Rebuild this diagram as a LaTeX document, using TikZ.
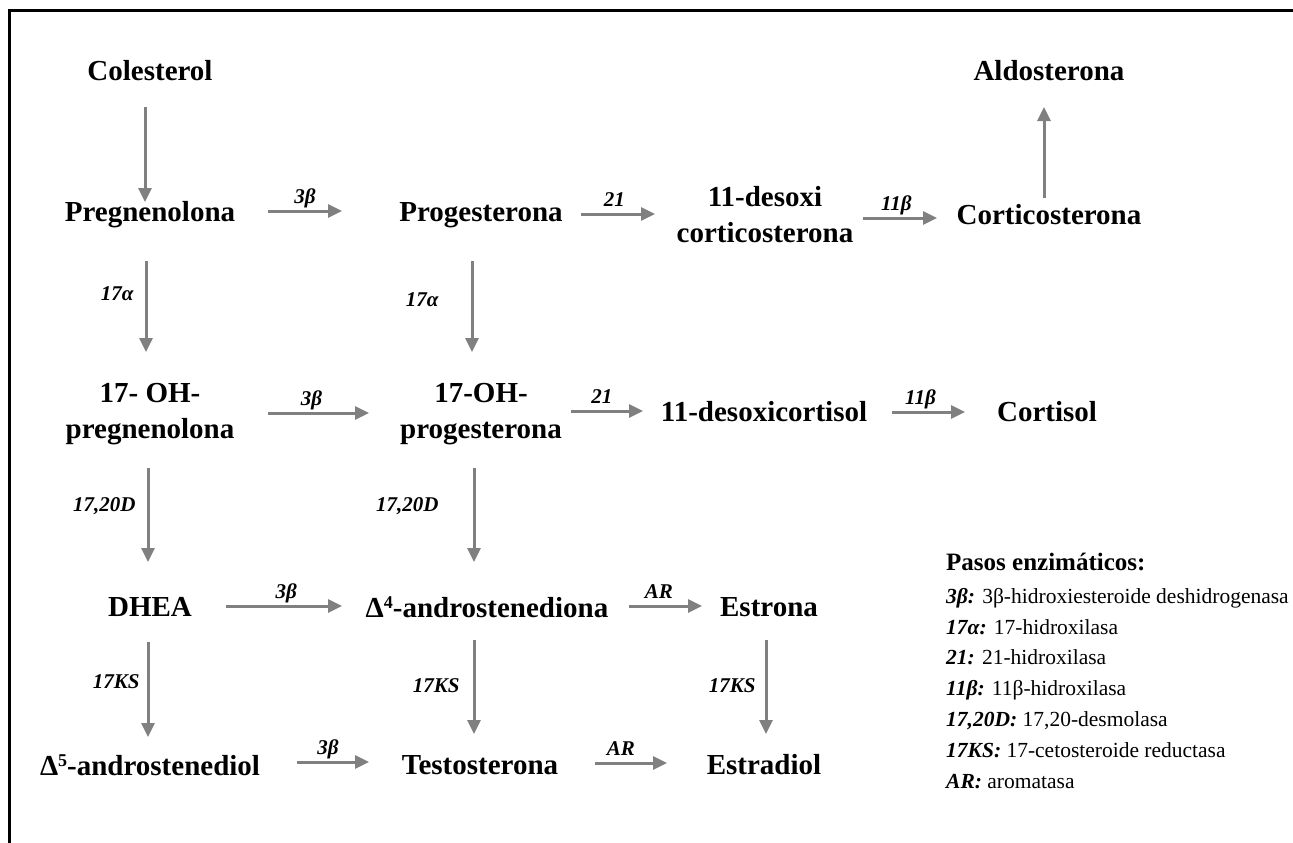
\documentclass[tikz,border=0pt]{standalone}
\usepackage{fontspec}
\setmainfont{Liberation Serif}
\usetikzlibrary{arrows.meta,positioning}
\definecolor{gris}{RGB}{128,128,128}
\begin{document}
\begin{tikzpicture}[x=1pt, y=1pt,
	compuesto/.style={font=\fontsize{29}{36}\selectfont\bfseries, align=center, inner sep=0pt},
	flecha/.style={draw=gris, line width=3pt, -{Triangle[length=14pt,width=13pt]}},
	etiq/.style={font=\fontsize{21}{21}\selectfont\bfseries\itshape, text=black, inner sep=1pt, text height=14pt, text depth=4pt}]
		\useasboundingbox (0,0) rectangle (1293,-843);
		\draw[line width=3pt] (9,-843) -- (9,-11) -- (1293,-11);
		% columna izquierda
		\node (col) [compuesto] at (150,-71) {Colesterol};
		\node (preg) [compuesto, below of = col, node distance=144pt] {Pregnenolona};
		\node (ohpreg) [compuesto, below of = preg, node distance=199pt] {17- OH-\\pregnenolona};
		\node (dhea) [compuesto, below of = ohpreg, node distance=193pt] {DHEA};
		\node (a5diol) [compuesto, below of = dhea, node distance=158pt] {Δ\raisebox{9pt}{\fontsize{18}{18}\selectfont 5}-androstenediol};
		% segunda columna
		\node (prog) [compuesto, right of = preg, node distance=331pt] {Progesterona};
		\node (ohprog) [compuesto, right of = ohpreg, node distance=331pt] {17-OH-\\progesterona};
		\node (a4) [compuesto, right of = dhea, node distance=337pt] {Δ\raisebox{9pt}{\fontsize{18}{18}\selectfont 4}-androstenediona};
		\node (testo) [compuesto, right of = a5diol, node distance=330pt] {Testosterona};
		% resto
		\node (doc) [compuesto, right of = prog, node distance=284pt] {11-desoxi\\corticosterona};
		\node (cortico) [compuesto, right of = doc, node distance=284pt] {Corticosterona};
		\node (aldo) [compuesto, above of = cortico, node distance=144pt] {Aldosterona};
		\node (dcortisol) [compuesto, right of = ohprog, node distance=283pt, yshift=2pt] {11-desoxicortisol};
		\node (cortisol) [compuesto, right of = dcortisol, node distance=283pt] {Cortisol};
		\node (estrona) [compuesto, right of = a4, node distance=282pt] {Estrona};
		\node (estradiol) [compuesto, right of = testo, node distance=284pt] {Estradiol};
		% flechas verticales
		\draw[flecha] ([xshift=-5pt,yshift=-36pt]col.center) -- ([xshift=-5pt,yshift=13pt]preg.center);
		\draw[flecha] ([xshift=-4pt,yshift=-46pt]preg.center) -- node[etiq, left=10pt, pos=0.38] {17α} ([xshift=-4pt,yshift=62pt]ohpreg.center);
		\draw[flecha] ([xshift=-2pt,yshift=-54pt]ohpreg.center) -- node[etiq, left=10pt, pos=0.41] {17,20D} ([xshift=-2pt,yshift=45pt]dhea.center);
		\draw[flecha] ([xshift=-2pt,yshift=-35pt]dhea.center) -- node[etiq, left=6pt, pos=0.44] {17KS} ([xshift=-2pt,yshift=28pt]a5diol.center);
		\draw[flecha] ([xshift=-9pt,yshift=-46pt]prog.center) -- node[etiq, left=31pt, pos=0.45] {17α} ([xshift=-9pt,yshift=62pt]ohprog.center);
		\draw[flecha] ([xshift=-7pt,yshift=-54pt]ohprog.center) -- node[etiq, left=33pt, pos=0.41] {17,20D} ([xshift=-13pt,yshift=45pt]a4.center);
		\draw[flecha] ([xshift=-13pt,yshift=-33pt]a4.center) -- node[etiq, left=12pt, pos=0.5] {17KS} ([xshift=-6pt,yshift=31pt]testo.center);
		\draw[flecha] ([xshift=-3pt,yshift=-33pt]estrona.center) -- node[etiq, left=8pt, pos=0.5] {17KS} ([xshift=2pt,yshift=31pt]estradiol.center);
		\draw[flecha] ([xshift=-5pt,yshift=17pt]cortico.center) -- ([xshift=-5pt,yshift=-36pt]aldo.center);
		% flechas horizontales
		\draw[flecha] ([xshift=118pt,yshift=4pt]preg.center) -- node[etiq, above=1pt] {3β} ([xshift=-139pt,yshift=4pt]prog.center);
		\draw[flecha] ([xshift=100pt,yshift=1pt]prog.center) -- node[etiq, above=1pt, pos=0.45] {21} ([xshift=-110pt,yshift=1pt]doc.center);
		\draw[flecha] ([xshift=98pt,yshift=-3pt]doc.center) -- node[etiq, above=1pt, pos=0.45] {11β} ([xshift=-112pt,yshift=-3pt]cortico.center);
		\draw[flecha] ([xshift=118pt,yshift=1pt]ohpreg.center) -- node[etiq, above=1pt, pos=0.43] {3β} ([xshift=-112pt,yshift=1pt]ohprog.center);
		\draw[flecha] ([xshift=90pt,yshift=3pt]ohprog.center) -- node[etiq, above=1pt, pos=0.43] {21} ([xshift=-121pt,yshift=1pt]dcortisol.center);
		\draw[flecha] ([xshift=128pt]dcortisol.center) -- node[etiq, above=1pt, pos=0.39] {11β} ([xshift=-82pt]cortisol.center);
		\draw[flecha] ([xshift=76pt,yshift=1pt]dhea.center) -- node[etiq, above=1pt, pos=0.52] {3β} ([xshift=-145pt,yshift=1pt]a4.center);
		\draw[flecha] ([xshift=142pt,yshift=1pt]a4.center) -- node[etiq, above=1pt, pos=0.41] {AR} ([xshift=-67pt,yshift=1pt]estrona.center);
		\draw[flecha] ([xshift=147pt,yshift=3pt]a5diol.center) -- node[etiq, above=1pt, pos=0.43] {3β} ([xshift=-111pt,yshift=3pt]testo.center);
		\draw[flecha] ([xshift=115pt,yshift=2pt]testo.center) -- node[etiq, above=1pt, pos=0.36] {AR} ([xshift=-97pt,yshift=2pt]estradiol.center);
		% leyenda
		\node (pasos) [anchor=base west, inner sep=0pt, font=\fontsize{25}{25}\selectfont\bfseries] at (946,-570) {Pasos enzimáticos:};
		\node (lista) [anchor=north west, inner sep=0pt, align=left, font=\fontsize{21.5}{30.8}\selectfont] at (946,-588) {%
			{\bfseries\itshape 3β:} 3β-hidroxiesteroide deshidrogenasa\\
			{\bfseries\itshape 17α:} 17-hidroxilasa\\
			{\bfseries\itshape 21:} 21-hidroxilasa\\
			{\bfseries\itshape 11β:} 11β-hidroxilasa\\
			{\bfseries\itshape 17,20D:} 17,20-desmolasa\\
			{\bfseries\itshape 17KS:} 17-cetosteroide reductasa\\
			{\bfseries\itshape AR:} aromatasa};
\end{tikzpicture}
\end{document}
